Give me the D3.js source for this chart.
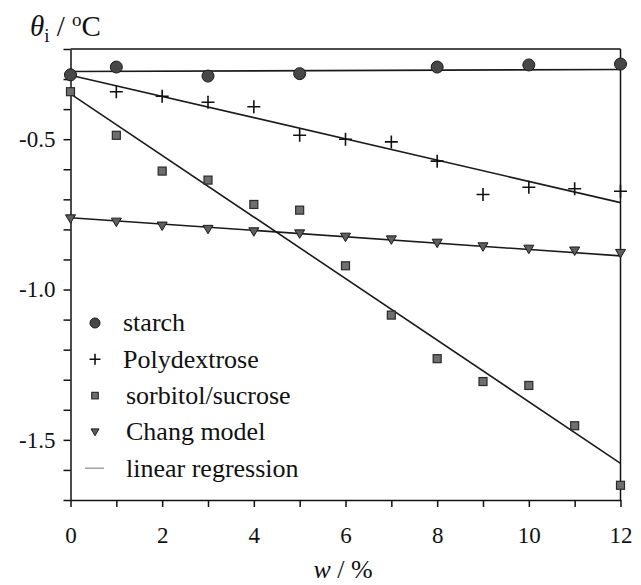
<!DOCTYPE html>
<html>
<head>
<meta charset="utf-8">
<script src="https://cdn.jsdelivr.net/npm/d3@7"></script>
<style>
  body { margin: 0; background: #fff; }
  svg text { font-family: "Liberation Serif", "Times New Roman", Times, "DejaVu Serif", serif; fill: #111; }
</style>
</head>
<body>
<svg id="drawing_region"></svg>
<script>
// data
const w_values = [0, 1, 2, 3, 4, 5, 6, 7, 8, 9, 10, 11, 12];
const starch = [-0.286, -0.260, null, -0.290, null, -0.282, null, null, -0.260, null, -0.253, null, -0.250];
const polydextrose = [-0.285, -0.342, -0.357, -0.377, -0.392, -0.487, -0.500, -0.509, -0.573, -0.684, -0.660, -0.665, -0.673];
const sorbitol = [-0.342, -0.487, -0.606, -0.636, -0.717, -0.736, -0.921, -1.085, -1.230, -1.306, -1.319, -1.453, -1.651];
const chang = [-0.764, -0.775, -0.788, -0.799, -0.807, -0.814, -0.825, -0.834, -0.845, -0.857, -0.865, -0.871, -0.879];

// regression lines: value at w = 0 and at w = 12
const fit_starch = [-0.275, -0.268];
const fit_poly = [-0.287, -0.711];
const fit_sorbitol = [-0.349, -1.578];
const fit_chang = [-0.761, -0.888];

const x_ticks = d3.range(0, 13, 1);
const y_ticks = d3.range(-17, -1, 1).map(d => d / 10);
const y_labels = { "-0.5": "-0.5", "-1": "-1.0", "-1.5": "-1.5" };
const legend_names = ["starch", "Polydextrose", "sorbitol/sucrose", "Chang model", "linear regression"];

const config = { width: 641, height: 585 };
const serif = '"Liberation Serif", "Times New Roman", Times, "DejaVu Serif", serif';

const svg = d3.select('#drawing_region')
    .attr('width', config.width)
    .attr('height', config.height)
    .attr('font-family', serif);

const xscale = d3.scaleLinear().domain([0, 12]).range([70.5, 620.5]);
const yscale = d3.scaleLinear().domain([-1.7, -0.2]).range([500, 49]);

// axes
const xaxis = d3.axisBottom(xscale)
    .tickValues(x_ticks)
    .tickFormat(d => d % 2 === 0 ? d : "")
    .tickSize(7)
    .tickSizeOuter(0)
    .tickPadding(20);

const yaxis = d3.axisLeft(yscale)
    .tickValues(y_ticks)
    .tickFormat(d => y_labels[String(+d.toFixed(1))] || "")
    .tickSize(7)
    .tickSizeOuter(0)
    .tickPadding(8);

const gx = svg.append('g')
    .attr('transform', `translate(0, ${yscale(-1.7)})`)
    .call(xaxis);
const gy = svg.append('g')
    .attr('transform', `translate(${xscale(0)}, 0)`)
    .call(yaxis);

[gx, gy].forEach(g => {
    g.attr('font-family', serif).attr('font-size', 23);
    g.selectAll('path, line').attr('stroke', '#111').attr('stroke-width', 1.5);
    g.selectAll('text').attr('fill', '#111');
});

// frame top and right
svg.append('line')
    .attr('x1', xscale(0)).attr('x2', xscale(12))
    .attr('y1', yscale(-0.2)).attr('y2', yscale(-0.2))
    .attr('stroke', '#111').attr('stroke-width', 1.5);
svg.append('line')
    .attr('x1', xscale(12)).attr('x2', xscale(12))
    .attr('y1', yscale(-0.2)).attr('y2', yscale(-1.7))
    .attr('stroke', '#111').attr('stroke-width', 1.5);

// regression lines
[fit_starch, fit_poly, fit_sorbitol, fit_chang].forEach(f => {
    svg.append('line')
        .attr('x1', xscale(0)).attr('y1', yscale(f[0]))
        .attr('x2', xscale(12)).attr('y2', yscale(f[1]))
        .attr('stroke', '#1a1a1a')
        .attr('stroke-width', 1.6);
});

// marker drawing helpers
const plus = (g, cx, cy, s) => g.append('path')
    .attr('d', `M${cx - s},${cy}H${cx + s}M${cx},${cy - s}V${cy + s}`)
    .attr('stroke', '#111').attr('stroke-width', 1.6).attr('fill', 'none');
const circle = (g, cx, cy, r) => g.append('circle')
    .attr('cx', cx).attr('cy', cy).attr('r', r)
    .attr('fill', '#474747').attr('stroke', '#1a1a1a').attr('stroke-width', 1);
const square = (g, cx, cy, s) => g.append('rect')
    .attr('x', cx - s / 2).attr('y', cy - s / 2).attr('width', s).attr('height', s)
    .attr('fill', '#6e6e6e').attr('stroke', '#2a2a2a').attr('stroke-width', 1.2);
const triangle = (g, cx, cy, s) => g.append('path')
    .attr('d', `M${cx - s},${cy - s * 0.75}L${cx + s},${cy - s * 0.75}L${cx},${cy + s * 0.95}Z`)
    .attr('fill', '#5e5e5e').attr('stroke', '#1a1a1a').attr('stroke-width', 1);

const marks = svg.append('g');

w_values.forEach((w, i) => {
    if (chang[i] !== null) triangle(marks, xscale(w), yscale(chang[i]), 5);
});
w_values.forEach((w, i) => {
    if (sorbitol[i] !== null) square(marks, xscale(w), yscale(sorbitol[i]), 8);
});
w_values.forEach((w, i) => {
    if (polydextrose[i] !== null) plus(marks, xscale(w), yscale(polydextrose[i]), 6.5);
});
w_values.forEach((w, i) => {
    if (starch[i] !== null) circle(marks, xscale(w), yscale(starch[i]), 6);
});

// legend
const legend = svg.append('g');
const lx = 95, ltx = 123, ly0 = 323, lstep = 36.3;
legend_names.forEach((name, i) => {
    const cy = ly0 + i * lstep;
    if (i === 0) circle(legend, lx, cy, 5);
    if (i === 1) plus(legend, lx, cy, 5.5);
    if (i === 2) square(legend, lx, cy, 6.5);
    if (i === 3) triangle(legend, lx, cy, 4);
    if (i === 4) legend.append('line')
        .attr('x1', lx - 10).attr('x2', lx + 9).attr('y1', cy).attr('y2', cy)
        .attr('stroke', '#888').attr('stroke-width', 1.2);
    legend.append('text')
        .attr('x', ltx + (i >= 2 ? 3 : 0))
        .attr('y', cy)
        .attr('dy', '0.32em')
        .attr('font-size', 26)
        .text(name);
});

// axis titles
const ylab = svg.append('text')
    .attr('x', 30).attr('y', 36)
    .attr('font-size', 29);
ylab.append('tspan').attr('font-style', 'italic').text('θ');
ylab.append('tspan').attr('dy', 6).attr('font-size', 19).text('i');
ylab.append('tspan').attr('dy', -6).text(' / ');
ylab.append('tspan').attr('dy', -10).attr('font-size', 19).text('o');
ylab.append('tspan').attr('dy', 10).text('C');

const xlab = svg.append('text')
    .attr('x', 343).attr('y', 578)
    .attr('text-anchor', 'middle')
    .attr('font-size', 26);
xlab.append('tspan').attr('font-style', 'italic').text('w');
xlab.append('tspan').text(' / %');
</script>
</body>
</html>
